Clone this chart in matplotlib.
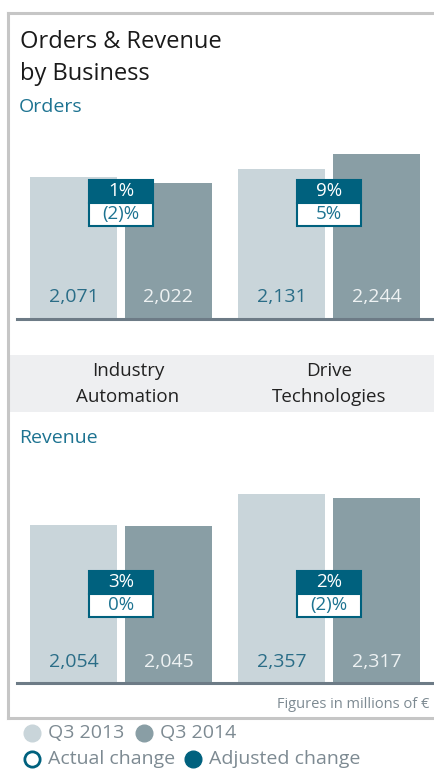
import matplotlib.pyplot as plt
from matplotlib.patches import Rectangle
from matplotlib.lines import Line2D
import matplotlib.transforms as mtransforms

plt.rcParams['font.family'] = ['Open Sans', 'DejaVu Sans']

# data
businesses = ["Industry\nAutomation", "Drive\nTechnologies"]
orders_2013 = [2071, 2131]
orders_2014 = [2022, 2244]
revenue_2013 = [2054, 2357]
revenue_2014 = [2045, 2317]
orders_adjusted = ["1%", "9%"]
orders_actual = ["(2)%", "5%"]
revenue_adjusted = ["3%", "2%"]
revenue_actual = ["0%", "(2)%"]
series_labels = ["Q3 2013", "Q3 2014"]
change_labels = ["Actual change", "Adjusted change"]

LIGHT = "#c9d5da"
DARK = "#899ea5"
TEAL = "#00617e"
TEAL_TXT = "#1d7391"
GREY_TXT = "#7d8a92"

W, H = 434, 769
fig = plt.figure(figsize=(W / 100, H / 100), dpi=100)


def px_rect(x0, y_top, x1, y_bot):
    # pixel box (from top-left) -> figure fraction rect
    return [x0 / W, 1 - y_bot / H, (x1 - x0) / W, (y_bot - y_top) / H]


# frame
fc = "#c6c6c6"
fig.add_artist(Line2D([8 / W, 8 / W], [1 - 13 / H, 1 - 718 / H], color=fc, lw=2.2))
fig.add_artist(Line2D([8 / W, 1], [1 - 13 / H, 1 - 13 / H], color=fc, lw=2.2))
fig.add_artist(Line2D([8 / W, 1], [1 - 718 / H, 1 - 718 / H], color=fc, lw=2.2))

# category band
band = Rectangle((10 / W, 1 - 412 / H), 1 - 10 / W, 57 / H, transform=fig.transFigure,
                 facecolor="#eeeff1", edgecolor="none")
fig.add_artist(band)

fig.text(20 / W, 1 - 58 / H, "Orders & Revenue\nby Business", fontsize=17,
         color="#1a1a1a", va="center", ha="left", linespacing=1.4)
fig.text(19 / W, 1 - 107 / H, "Orders", fontsize=14, color=TEAL_TXT, va="center")
fig.text(19 / W, 1 - 438 / H, "Revenue", fontsize=14, color=TEAL_TXT, va="center")

width = 0.418
off = 0.228


def panel(rect, v13, v14, ylim, adj, act, box_y, lab_y):
    ax = fig.add_axes(rect)
    xs = range(len(businesses))
    ax.bar([x - off for x in xs], v13, width=width, color=LIGHT)
    ax.bar([x + off for x in xs], v14, width=width, color=DARK)
    ax.set_xlim(-0.5, 1.505)
    ax.set_ylim(*ylim)
    ax.axis("off")
    ax.axhline(ylim[0], color="#6d7b86", lw=2.2, clip_on=False)
    tr = mtransforms.blended_transform_factory(ax.transData, ax.transAxes)
    for i in xs:
        ax.text(i - off, lab_y, f"{v13[i]:,}", transform=tr, ha="center", va="center",
                fontsize=14, color="#2a6d87")
        ax.text(i + off, lab_y, f"{v14[i]:,}", transform=tr, ha="center", va="center",
                fontsize=14, color="#eef2f3")
        top, mid, bot = box_y
        bw = 0.31
        ax.add_patch(Rectangle((i - bw / 2, mid), bw, top - mid, transform=tr,
                               facecolor=TEAL, edgecolor=TEAL, lw=1.5))
        ax.add_patch(Rectangle((i - bw / 2, bot), bw, mid - bot, transform=tr,
                               facecolor="white", edgecolor=TEAL, lw=1.5))
        ax.text(i, (top + mid) / 2, adj[i], transform=tr, ha="center", va="center",
                fontsize=13.5, color="white")
        ax.text(i, (mid + bot) / 2, act[i], transform=tr, ha="center", va="center",
                fontsize=13.5, color=TEAL_TXT)
    return ax


panel(px_rect(17, 140, 434, 319), orders_2013, orders_2014, (1000, 2350),
      orders_adjusted, orders_actual, (0.777, 0.648, 0.520), 0.123)
panel(px_rect(17, 470, 434, 683), revenue_2013, revenue_2014, (500, 2590),
      revenue_adjusted, revenue_actual, (0.526, 0.418, 0.310), 0.099)

# category labels
for cx, name in zip([128, 329], businesses):
    fig.text(cx / W, 1 - 384 / H, name, fontsize=13.5, color="#222222",
             ha="center", va="center", linespacing=1.55)

fig.text(429 / W, 1 - 705 / H, "Figures in millions of €", fontsize=10.5,
         color=GREY_TXT, ha="right", va="center")

# legend
ly1, ly2 = 1 - 733 / H, 1 - 759 / H
fig.add_artist(Line2D([32 / W], [ly1], marker="o", ms=12, color=LIGHT, lw=0))
fig.text(48 / W, ly1, series_labels[0], fontsize=14, color=GREY_TXT, va="center")
fig.add_artist(Line2D([144 / W], [ly1], marker="o", ms=12, color=DARK, lw=0))
fig.text(160 / W, ly1, series_labels[1], fontsize=14, color=GREY_TXT, va="center")
fig.add_artist(Line2D([32 / W], [ly2], marker="o", ms=11, mfc="white", mec=TEAL,
                      mew=2, lw=0))
fig.text(48 / W, ly2, change_labels[0], fontsize=14, color=GREY_TXT, va="center")
fig.add_artist(Line2D([193 / W], [ly2], marker="o", ms=12, color=TEAL, lw=0))
fig.text(209 / W, ly2, change_labels[1], fontsize=14, color=GREY_TXT, va="center")

fig.savefig("out.png", dpi=100)
